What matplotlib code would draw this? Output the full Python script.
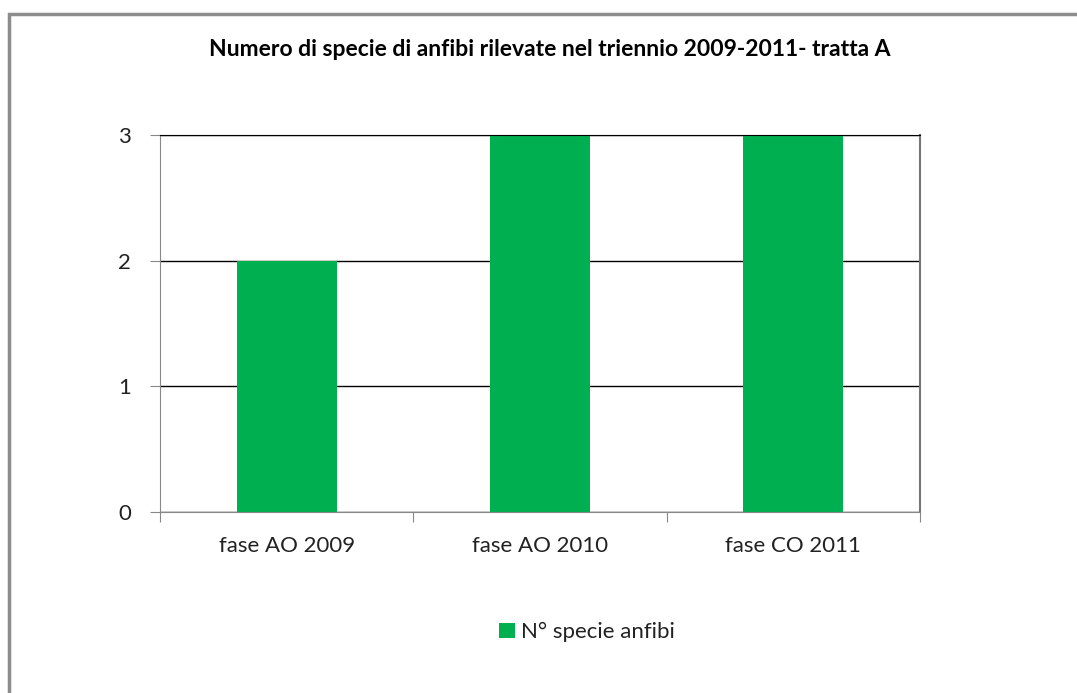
import matplotlib.pyplot as plt
from matplotlib.patches import Rectangle

# Dati del grafico
categorie = ['fase AO 2009', 'fase AO 2010', 'fase CO 2011']
n_specie = [2, 3, 3]
etichette_y = [0, 1, 2, 3]

plt.rcParams['font.family'] = ['Lato', 'DejaVu Sans']

fig = plt.figure(figsize=(10.77, 6.93), dpi=100)
W, H = 1077, 693

# Bordo grigio del riquadro del grafico (tagliato a destra e in basso)
fig.patches.append(Rectangle((9 / W, -0.1), 1.2, 1 - 14 / H + 0.1,
                             transform=fig.transFigure, fill=False,
                             edgecolor='#8c8c8c', linewidth=2.5))

# Area del grafico in pixel: x 160-920, y 135-512
ax = fig.add_axes([160 / W, 1 - 512 / H, 760 / W, 377 / H])
x = range(len(categorie))
ax.bar(x, n_specie, width=0.395, color='#00b050', label='N° specie anfibi', zorder=2)

ax.set_xlim(-0.5, 2.5)
ax.set_ylim(0, 3)
ax.set_yticks(etichette_y)
ax.set_xticks([-0.5, 0.5, 1.5, 2.5], minor=False)
ax.set_xticklabels([])
ax.set_xticks(list(x), minor=True)
ax.set_xticklabels(categorie, minor=True, fontsize=16, color='#222222')
ax.tick_params(axis='x', which='minor', length=0, pad=17)
ax.tick_params(axis='x', which='major', length=7, color='#888888', direction='out')
ax.tick_params(axis='y', length=7, color='#888888', labelsize=16, pad=14, labelcolor='#222222')

ax.yaxis.grid(True, color='black', linewidth=1.0, zorder=1)
for s in ['left', 'bottom']:
    ax.spines[s].set_color('#888888')
ax.spines['top'].set_color('black')
ax.spines['right'].set_color('#777777')
ax.spines['right'].set_linewidth(1.5)

fig.text(550 / W, 1 - 50 / H, 'Numero di specie di anfibi rilevate nel triennio 2009-2011- tratta A',
         ha='center', va='center', fontsize=16.5, fontweight='bold', color='black')

fig.legend(loc='center', bbox_to_anchor=(587 / W, 1 - 632 / H), frameon=False,
           fontsize=16, handlelength=0.7, handleheight=0.7, handletextpad=0.3,
           labelcolor='#222222')

fig.savefig('out.png', dpi=100)
